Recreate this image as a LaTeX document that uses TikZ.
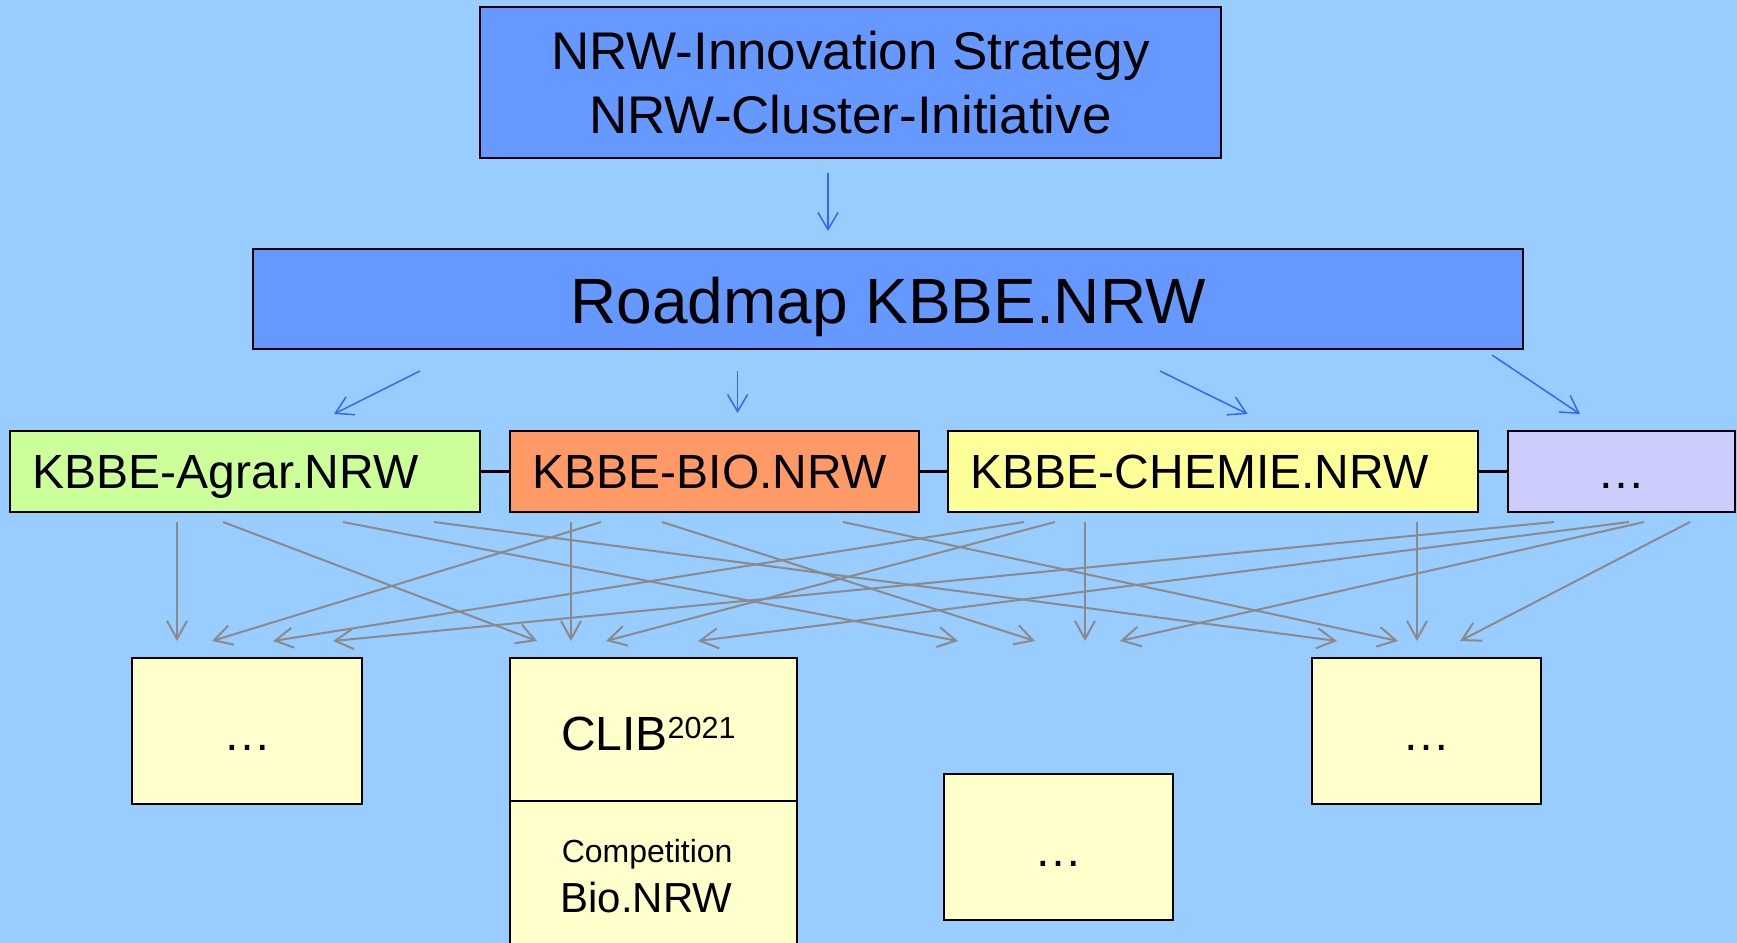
\documentclass[tikz,border=0pt]{standalone}
\usepackage{fontspec}
\setmainfont{Liberation Sans}
\usetikzlibrary{arrows.meta}
\definecolor{bg}{HTML}{99CCFF}
\definecolor{topblue}{HTML}{6699FF}
\definecolor{agrarc}{HTML}{CCFF99}
\definecolor{bioc}{HTML}{FF9966}
\definecolor{chemiec}{HTML}{FFFF99}
\definecolor{lavc}{HTML}{CCCCFF}
\definecolor{palec}{HTML}{FFFFCC}
\definecolor{arrblue}{HTML}{3366FF}
\definecolor{arrgrey}{HTML}{8A8A8A}
\begin{document}
\begin{tikzpicture}[x=0.5pt,y=-0.5pt,
  box/.style={draw=black,line width=1.25pt,inner sep=0pt,outer sep=0pt},
  bigbox/.style={box,fill=topblue,align=center},
  rowbox/.style={box,minimum height=40.5pt,inner xsep=11.4pt,
    font=\fontsize{24}{28}\selectfont,text height=17.5pt,text depth=1pt,align=left},
  palebox/.style={box,line width=1pt,fill=palec,minimum width=114.5pt,minimum height=73pt},
  dotsbox/.style={palebox,font=\fontsize{24}{28}\selectfont,text height=20pt,text depth=1pt},
  bluearr/.style={draw=arrblue,line width=0.75pt,-{Straight Barb[length=8.5pt,width=10pt,line width=0.75pt]}},
  greyarr/.style={draw=arrgrey,line width=1pt,-{Straight Barb[length=9pt,width=10pt,line width=1pt]}},
  joinline/.style={draw=black,line width=1.25pt}
]
\clip (0,0) rectangle (1737,943);
\fill[bg] (0,0) rectangle (1737,943);

% top boxes
\node[bigbox,minimum width=370.5pt,minimum height=75.5pt,
  font=\fontsize{26.5}{32}\selectfont] (top) at (850.5,82.5)
  {NRW-Innovation Strategy\\NRW-Cluster-Initiative};
\node[bigbox,minimum width=635pt,minimum height=50pt,
  font=\fontsize{32}{38}\selectfont,text height=25pt,text depth=1pt] (road) at (888,299) {Roadmap KBBE.NRW};

% row of KBBE boxes
\node[rowbox,fill=agrarc,text width=212.2pt] (agrar) at (245,471.5) {KBBE-Agrar.NRW};
\node[rowbox,fill=bioc,text width=181.7pt] (bio) at (714.5,471.5) {KBBE-BIO.NRW};
\node[rowbox,fill=chemiec,text width=242.2pt] (chemie) at (1213,471.5) {KBBE-CHEMIE.NRW};
\node[rowbox,fill=lavc,text width=90.7pt,align=center] (lav) at (1621.5,471.5) {\dots};
\draw[joinline] (agrar.east) -- (bio.west);
\draw[joinline] (bio.east) -- (chemie.west);
\draw[joinline] (chemie.east) -- (lav.west);

% bottom boxes
\node[dotsbox,minimum width=115pt] (b1) at (247,731) {\dots};
\node[palebox,minimum width=143.5pt,minimum height=71.5pt,inner xsep=25.5pt,
  text width=92.5pt,align=left,font=\fontsize{24}{28}\selectfont,
  text height=22.2pt,text depth=1pt] (clib) at (653.5,729.5)
  {CLIB{\fontsize{15.25}{16}\selectfont\raisebox{6.1pt}{2021}}};
\node[palebox,minimum width=143.5pt,minimum height=74.5pt] (comp) at (653.5,875.5) {};
\node[anchor=base west,inner sep=0pt,font=\fontsize{16}{18}\selectfont] (compt) at (561.4,862.7) {Competition};
\node[anchor=base west,inner sep=0pt,font=\fontsize{21}{24}\selectfont] (biot) at (560,912.7) {Bio.NRW};
\node[dotsbox] (b3) at (1058.5,847) {\dots};
\node[dotsbox] (b4) at (1426.5,731) {\dots};

% blue arrows
\coordinate (a0s) at (828,173);  \coordinate (a0e) at (828,231);
\coordinate (a1s) at (420,371);  \coordinate (a1e) at (334,414);
\coordinate (a2s) at (737.6,371);\coordinate (a2e) at (737.6,413);
\coordinate (a3s) at (1160,371); \coordinate (a3e) at (1247.6,414);
\coordinate (a4s) at (1492,355); \coordinate (a4e) at (1580,414);
\foreach \i in {0,...,4} {\draw[bluearr] (a\i s) -- (a\i e);}

% grey arrow sources
\coordinate (sAg1) at (177,522); \coordinate (sAg2) at (223,522);
\coordinate (sAg3) at (343,522); \coordinate (sAg4) at (434,522);
\coordinate (sBi1) at (571,522); \coordinate (sBi2) at (601,522);
\coordinate (sBi3) at (662,522); \coordinate (sBi4) at (843,522);
\coordinate (sCh1) at (1024,522); \coordinate (sCh2) at (1055,522);
\coordinate (sCh3) at (1085,522); \coordinate (sCh4) at (1417,522);
\coordinate (sLa1) at (1554,522); \coordinate (sLa2) at (1629,522);
\coordinate (sLa3) at (1644,522); \coordinate (sLa4) at (1690,522);
% grey arrow targets
\coordinate (t11) at (177,641); \coordinate (t12) at (212,641);
\coordinate (t13) at (273,641); \coordinate (t14) at (333,641);
\coordinate (t21) at (537,641); \coordinate (t22) at (571,641);
\coordinate (t23) at (606,641); \coordinate (t24) at (698,641);
\coordinate (t31) at (958,641); \coordinate (t32) at (1035,641);
\coordinate (t33) at (1085,641); \coordinate (t34) at (1120,641);
\coordinate (t41) at (1337,641); \coordinate (t42) at (1398,641);
\coordinate (t43) at (1417,641); \coordinate (t44) at (1460,641);

\foreach \s/\t in {sAg1/t11,sAg2/t21,sAg3/t31,sAg4/t41,
                   sBi1/t22,sBi2/t12,sBi3/t32,sBi4/t42,
                   sCh1/t13,sCh2/t23,sCh3/t33,sCh4/t43,
                   sLa1/t14,sLa2/t24,sLa3/t34,sLa4/t44}
  {\draw[greyarr] (\s) -- (\t);}
\end{tikzpicture}
\end{document}
